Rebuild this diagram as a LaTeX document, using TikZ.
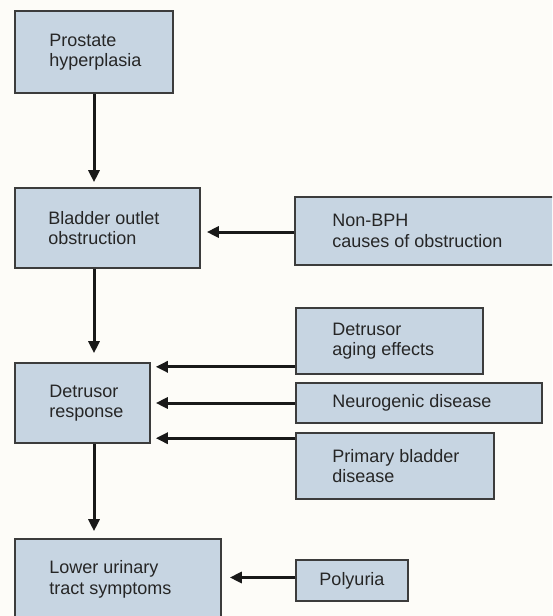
\documentclass[tikz,border=0pt]{standalone}
\usepackage{fontspec}
\setmainfont{Liberation Sans}
\usetikzlibrary{arrows.meta}

\definecolor{paper}{HTML}{FDFCF8}
\definecolor{boxfill}{HTML}{C7D5E2}
\definecolor{boxline}{HTML}{3C3C3C}
\definecolor{ink}{HTML}{262626}

\tikzset{
  box/.style={draw=boxline, line width=1.6pt, fill=boxfill, inner sep=0pt},
  lbl/.style={align=left, inner sep=0pt, text=ink,
              font=\fontsize{18}{20.5}\selectfont},
  arr/.style={line width=3pt, draw=black!90,
              -{Triangle[length=12pt,width=11pt]}}
}

\begin{document}
\begin{tikzpicture}[x=1pt, y=-1pt]
  % page
  \fill[paper] (0,0) rectangle (552,616);
  \useasboundingbox (0,0) rectangle (552,616);
  \clip (0,0) rectangle (552,616);

  % main chain on the left
  \node[box, minimum width=158pt, minimum height=82pt] (prost)   at (94,52)     {};
  \node[box, minimum width=185pt, minimum height=80pt] (bladder) at (107.5,228) {};
  \node[box, minimum width=135pt, minimum height=80pt] (detr)    at (82.5,403)  {};
  \node[box, minimum width=206pt, minimum height=101pt] (luts)   at (118,589.5) {};

  % contributing factors on the right
  \node[box, minimum width=275pt, minimum height=68pt] (nonbph) at (432.5,231) {};
  \node[box, minimum width=187pt, minimum height=66pt] (aging)  at (389.5,341) {};
  \node[box, minimum width=246pt, minimum height=40pt] (neuro)  at (419,403)   {};
  \node[box, minimum width=198pt, minimum height=66pt] (prim)   at (395,466)   {};
  \node[box, minimum width=112pt, minimum height=41pt] (poly)   at (352,580.5) {};

  % box texts
  \node[lbl, anchor=west] (tprost)   at ([xshift=35pt]prost.west)   {Prostate\\hyperplasia};
  \node[lbl, anchor=west] (tbladder) at ([xshift=34pt]bladder.west) {Bladder outlet\\obstruction};
  \node[lbl, anchor=west] (tdetr)    at ([xshift=35pt]detr.west)    {Detrusor\\response};
  \node[lbl, anchor=west] (tluts)    at ([xshift=35pt,yshift=-41pt]luts.north west) {Lower urinary\\tract symptoms};
  \node[lbl, anchor=west] (tnonbph)  at ([xshift=38pt]nonbph.west)  {Non-BPH\\causes of obstruction};
  \node[lbl, anchor=west] (taging)   at ([xshift=37pt]aging.west)   {Detrusor\\aging effects};
  \node[lbl, anchor=west] (tneuro)   at ([xshift=37pt]neuro.west)   {Neurogenic disease};
  \node[lbl, anchor=west] (tprim)    at ([xshift=37pt]prim.west)    {Primary bladder\\disease};
  \node[lbl]              (tpoly)    at (poly.center)               {Polyuria};

  % downward flow
  \draw[arr, shorten >=5pt] (prost.south) -- (prost.south |- bladder.north);
  \draw[arr, shorten >=9pt] (bladder.south -| prost.south) -- (detr.north -| prost.south);
  \draw[arr, shorten >=7pt] (detr.south -| prost.south) -- (luts.north -| prost.south);

  % inputs from the right
  \draw[arr, shorten >=6pt] ([yshift=-1pt]nonbph.west) -- ([yshift=-1pt]nonbph.west -| bladder.east);
  \draw[arr, shorten >=5pt] ([yshift=8pt]aging.south west) -- ([yshift=8pt]aging.south west -| detr.east);
  \draw[arr, shorten >=5pt] (neuro.west) -- (neuro.west -| detr.east);
  \draw[arr, shorten >=5pt] ([yshift=-6pt]prim.north west) -- ([yshift=-6pt]prim.north west -| detr.east);
  \draw[arr, shorten >=8pt] ([yshift=3pt]poly.west) -- ([yshift=3pt]poly.west -| luts.east);
\end{tikzpicture}
\end{document}
